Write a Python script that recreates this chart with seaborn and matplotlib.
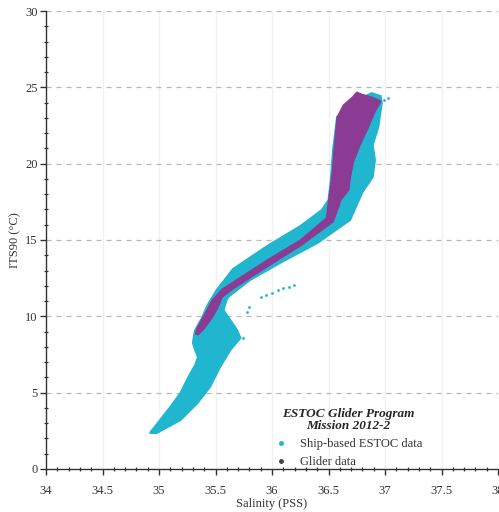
import matplotlib
matplotlib.use("Agg")
import matplotlib.pyplot as plt
from matplotlib.lines import Line2D
import seaborn as sns
import pandas as pd

# Ship-based ESTOC data: outline of the dense point cloud (salinity, temperature)
ship_sal = [34.92, 35.10, 35.19, 35.26, 35.32, 35.345, 35.32, 35.30, 35.31, 35.32,
            35.38, 35.43, 35.51, 35.655, 35.956, 36.25, 36.44, 36.50,
            36.52, 36.54, 36.575, 36.70, 36.76, 36.88, 36.96, 36.97, 36.94, 36.89,
            36.91, 36.89, 36.80, 36.69, 36.40, 36.10, 35.805, 35.61,
            35.595, 35.57, 35.63, 35.69, 35.72, 35.63, 35.54, 35.45, 35.34, 35.19,
            34.98]
ship_temp = [2.36, 4.06, 4.98, 6.02, 6.81, 7.33, 7.79, 8.25, 8.78, 9.10,
             9.89, 10.74, 11.72, 13.10, 14.60, 15.91, 16.96, 17.62,
             18.93, 20.89, 23.05, 23.90, 24.17, 24.62, 24.43, 23.97, 22.40, 21.22,
             20.24, 19.12, 18.14, 16.31, 14.80, 13.62, 12.38, 11.26,
             11.00, 10.41, 9.76, 9.10, 8.58, 7.79, 6.68, 5.37, 4.32, 3.21,
             2.36]

# Glider data: outline of the dense point cloud
glider_sal = [35.32, 35.34, 35.40, 35.47, 35.56, 35.655, 35.956, 36.25, 36.48,
              36.50, 36.53, 36.55, 36.575, 36.63, 36.71, 36.75, 36.79, 36.885,
              36.965, 36.91, 36.85, 36.78, 36.72, 36.69, 36.68, 36.61, 36.58, 36.54,
              36.25, 35.956, 35.655, 35.56, 35.52, 35.47, 35.39, 35.345]
glider_temp = [8.84, 9.30, 10.09, 11.07, 11.79, 12.25, 13.69, 15.00, 16.44,
               17.62, 19.25, 21.09, 23.05, 23.84, 24.36, 24.69, 24.56, 24.36,
               24.10, 23.38, 22.33, 21.22, 20.10, 18.93, 18.27, 17.62, 16.96, 16.18,
               14.60, 13.23, 11.79, 11.26, 10.54, 9.89, 9.10, 8.78]

# Scattered ship-based points outside the main cloud
stray_sal = [35.78, 35.80, 35.90, 35.95, 36.00, 36.05, 36.10, 36.15, 36.19, 35.74, 36.99, 37.03]
stray_temp = [10.3, 10.6, 11.25, 11.4, 11.55, 11.7, 11.85, 11.95, 12.05, 8.55, 24.15, 24.3]

x_ticks = [34, 34.5, 35, 35.5, 36, 36.5, 37, 37.5, 38]
x_tick_labels = ["34", "34.5", "35", "35.5", "36", "36.5", "37", "37.5", "38"]
y_ticks = [0, 5, 10, 15, 20, 25, 30]

CYAN = "#20b6cf"
PURPLE = "#8b3b93"

sns.set_theme(style="white")
plt.rcParams["font.family"] = ["Liberation Serif", "DejaVu Serif"]

fig = plt.figure(figsize=(4.99, 5.12), dpi=100)
ax = fig.add_axes([0.0922, 0.084, 0.906, 0.8945])

ax.fill(ship_sal, ship_temp, color=CYAN, lw=1.5, ec=CYAN, zorder=3)
ax.fill(glider_sal, glider_temp, color=PURPLE, lw=0.8, ec=PURPLE, zorder=4)
stray = pd.DataFrame({"s": stray_sal, "t": stray_temp})
sns.scatterplot(data=stray, x="s", y="t", color=CYAN, s=4, linewidth=0, ax=ax, zorder=3)

ax.set_xlim(34, 38)
ax.set_ylim(0, 30)
ax.set_xticks(x_ticks)
ax.set_xticklabels(x_tick_labels)
ax.set_yticks(y_ticks)
ax.set_xticks([34 + 0.1 * i for i in range(41)], minor=True)
ax.set_yticks(list(range(31)), minor=True)

for y in y_ticks[1:]:
    ax.axhline(y, color="#b8b8b8", lw=0.9, ls=(0, (4, 4)), zorder=1)
for x in x_ticks[1:]:
    ax.axvline(x, color="#f1f1f1", lw=0.9, zorder=0)

for side in ["top", "right"]:
    ax.spines[side].set_visible(False)
for side in ["left", "bottom"]:
    ax.spines[side].set_color("#333333")
    ax.spines[side].set_linewidth(1.0)

ax.tick_params(axis="both", which="major", direction="out", length=4, width=1.0,
               color="#333333", labelsize=9, labelcolor="#333333")
ax.tick_params(axis="x", which="major", pad=7.5)
ax.tick_params(axis="y", which="major", pad=2)
ax.tick_params(axis="both", which="minor", direction="inout", length=3, width=0.9,
               color="#333333")
ax.tick_params(axis="both", which="both", bottom=True, left=True)

ax.set_xlabel("Salinity (PSS)", fontsize=9, color="#333333", labelpad=0.5)
ax.set_ylabel("ITS90 (°C)", fontsize=9, color="#333333", labelpad=3)

handles = [
    Line2D([], [], marker="o", ls="", color=CYAN, markersize=2.5, label="Ship-based ESTOC data"),
    Line2D([], [], marker="o", ls="", color="#444444", markersize=2.5, label="Glider data"),
]
leg = ax.legend(handles=handles, title="ESTOC Glider Program\nMission 2012-2",
                loc="lower left", bbox_to_anchor=(0.49, -0.012), frameon=False,
                fontsize=9, handletextpad=0.9, handlelength=1.2, labelspacing=0.5,
                borderpad=0.0)
leg.get_title().set_fontweight("bold")
leg.get_title().set_fontstyle("italic")
leg.get_title().set_fontsize(9.5)
leg.get_title().set_multialignment("center")
leg.get_title().set_linespacing(0.95)
for t in leg.get_texts():
    t.set_color("#333333")

fig.savefig("out.png", dpi=100)
